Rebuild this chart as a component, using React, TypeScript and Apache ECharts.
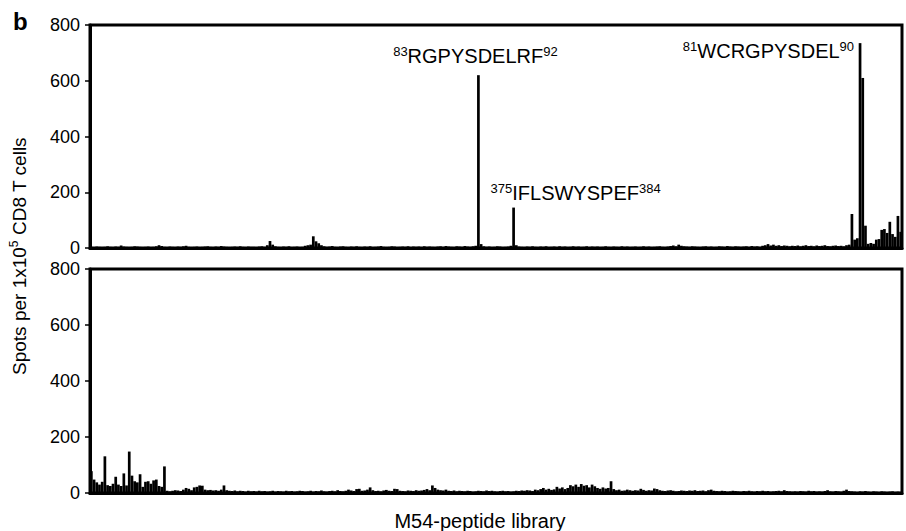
import { useEffect, useRef } from 'react';
import * as echarts from 'echarts';

const N = 300;
const categories: string[] = Array.from({ length: N }, (_, i) => String(i + 1));

const yTicks = [0, 200, 400, 600, 800];

// Upper panel (responder 1)
const topValues: number[] = [
  4, 3, 5, 4, 3, 4, 6, 4, 3, 5, 4, 9, 5, 4, 3, 4, 6, 5, 4, 3,
  4, 5, 3, 4, 6, 10, 7, 4, 3, 5, 4, 3, 5, 4, 6, 8, 4, 3, 4, 5,
  3, 4, 5, 6, 4, 3, 5, 4, 7, 5, 4, 3, 4, 5, 4, 6, 4, 3, 5, 4,
  4, 3, 5, 6, 4, 10, 25, 12, 6, 4, 3, 5, 4, 6, 3, 4, 5, 3, 4, 8,
  10, 12, 42, 24, 17, 10, 6, 4, 5, 7, 4, 3, 5, 6, 4, 3, 5, 4, 6, 4,
  3, 5, 4, 6, 3, 4, 5, 7, 4, 3, 4, 6, 5, 3, 4, 5, 4, 6, 3, 5,
  4, 5, 3, 6, 4, 5, 4, 3, 5, 6, 4, 7, 5, 4, 3, 6, 5, 4, 7, 5,
  4, 6, 8, 620, 14, 6, 4, 5, 3, 4, 6, 5, 3, 4, 5, 8, 145, 10, 5, 4,
  3, 5, 4, 6, 4, 3, 5, 4, 6, 3, 4, 5, 3, 6, 4, 5, 3, 4, 6, 4,
  5, 3, 4, 6, 3, 5, 4, 5, 3, 4, 6, 4, 3, 5, 4, 3, 6, 4, 5, 3,
  4, 5, 3, 4, 6, 4, 5, 3, 4, 5, 6, 4, 3, 5, 7, 9, 6, 12, 8, 6,
  5, 4, 6, 5, 4, 3, 5, 6, 4, 5, 3, 4, 6, 5, 4, 7, 5, 4, 6, 5,
  4, 5, 6, 4, 7, 5, 6, 4, 8, 10, 14, 9, 12, 8, 10, 7, 9, 8, 6, 8,
  7, 9, 6, 8, 10, 7, 8, 6, 9, 7, 8, 10, 7, 6, 8, 9, 7, 8, 6, 10,
  12, 122, 30, 35, 735, 610, 80, 15, 18, 15, 30, 32, 65, 68, 54, 94, 50, 40, 115, 58,
];

// Lower panel (responder 2)
const bottomValues: number[] = [
  78, 48, 38, 30, 40, 131, 28, 25, 33, 58, 30, 25, 70, 27, 148, 62, 42, 38, 67, 22,
  40, 42, 33, 45, 48, 25, 22, 95, 8, 6, 8, 10, 9, 7, 12, 18, 15, 10, 20, 22,
  27, 26, 12, 10, 11, 9, 10, 8, 12, 27, 10, 8, 7, 9, 6, 8, 7, 5, 8, 6,
  7, 5, 8, 6, 7, 5, 6, 8, 5, 7, 6, 5, 8, 6, 7, 5, 6, 8, 7, 5,
  6, 8, 5, 7, 6, 9, 6, 5, 7, 8, 6, 10, 7, 6, 8, 12, 9, 7, 14, 15,
  8, 9, 12, 20, 10, 7, 8, 6, 9, 11, 8, 7, 15, 14, 8, 7, 6, 9, 8, 7,
  10, 8, 9, 11, 14, 10, 27, 18, 12, 10, 9, 12, 8, 7, 9, 6, 8, 7, 6, 8,
  7, 5, 6, 8, 7, 6, 9, 7, 8, 6, 5, 7, 8, 6, 7, 5, 6, 8, 7, 9,
  8, 10, 9, 7, 12, 10, 14, 18, 12, 15, 11, 13, 22, 16, 20, 14, 18, 28, 24, 30,
  22, 32, 26, 28, 20, 30, 24, 18, 15, 20, 16, 18, 42, 14, 10, 12, 8, 9, 12, 10,
  8, 10, 9, 15, 11, 8, 10, 9, 16, 14, 10, 8, 7, 9, 10, 8, 6, 7, 9, 8,
  7, 9, 8, 10, 7, 8, 9, 6, 10, 12, 8, 7, 6, 8, 7, 5, 6, 8, 7, 6,
  5, 7, 6, 8, 6, 5, 7, 6, 8, 6, 7, 5, 6, 7, 8, 6, 10, 7, 6, 5,
  6, 5, 7, 6, 5, 8, 6, 7, 5, 6, 5, 7, 10, 6, 5, 7, 6, 5, 8, 12,
  7, 6, 5, 4, 6, 5, 7, 5, 4, 6, 5, 4, 6, 5, 4, 5, 6, 4, 5, 4,
];

// Annotated peptides: [category index, superscript start, sequence, superscript end]
const peptideLabels: [number, string, string, string][] = [
  [143, '83', 'RGPYSDELRF', '92'],
  [156, '375', 'IFLSWYSPEF', '384'],
  [284, '81', 'WCRGPYSDEL', '90'],
];

const FONT = '"Liberation Sans", Arial, Helvetica, sans-serif';

export default function App() {
  const ref = useRef<HTMLDivElement>(null);

  useEffect(() => {
    if (!ref.current) return;
    const chart = echarts.init(ref.current, undefined, { renderer: 'svg' });

    const rich = {
      s: { fontSize: 13, fontFamily: FONT, color: '#000', verticalAlign: 'top', lineHeight: 22 },
      m: { fontSize: 20, fontFamily: FONT, color: '#000', lineHeight: 22 },
    };

    const labelCfg = [
      { position: 'top', distance: 8, offset: [-3, 0] },
      { position: 'top', distance: 4, offset: [62, 0] },
      { position: 'left', distance: 6, offset: [0, 8] },
    ];

    const markData = peptideLabels.map(([idx, a, seq, b], k) => ({
      coord: [idx, topValues[idx]],
      symbol: 'circle',
      symbolSize: 0,
      label: {
        show: true,
        position: labelCfg[k].position,
        distance: labelCfg[k].distance,
        offset: labelCfg[k].offset,
        formatter: `{s|${a}}{m|${seq}}{s|${b}}`,
        rich,
      },
    }));

    const yAxisCommon = {
      type: 'value',
      min: yTicks[0],
      max: yTicks[yTicks.length - 1],
      interval: 200,
      splitLine: { show: false },
      axisLine: { show: true, lineStyle: { color: '#000', width: 3 } },
      axisTick: { show: true, length: 5, lineStyle: { color: '#000', width: 1.5 } },
      axisLabel: { color: '#000', fontSize: 18, fontFamily: FONT, margin: 10 },
    };

    const xAxisCommon = {
      type: 'category',
      data: categories,
      boundaryGap: true,
      axisLine: { show: true, lineStyle: { color: '#000', width: 3 } },
      axisTick: { show: false },
      axisLabel: { show: false },
      splitLine: { show: false },
    };

    chart.setOption({
      animation: false,
      backgroundColor: '#fff',
      grid: [
        { left: 90, top: 25, width: 812, height: 223, show: true, borderColor: '#000', borderWidth: 3, backgroundColor: 'transparent' },
        { left: 90, top: 269, width: 812, height: 224, show: true, borderColor: '#000', borderWidth: 3, backgroundColor: 'transparent' },
      ],
      xAxis: [
        { ...xAxisCommon, gridIndex: 0 },
        { ...xAxisCommon, gridIndex: 1 },
      ],
      yAxis: [
        { ...yAxisCommon, gridIndex: 0 },
        { ...yAxisCommon, gridIndex: 1 },
      ],
      series: [
        {
          type: 'bar',
          xAxisIndex: 0,
          yAxisIndex: 0,
          data: topValues,
          barCategoryGap: '0%',
          itemStyle: { color: '#000' },
          markPoint: { silent: true, data: markData },
        },
        {
          type: 'bar',
          xAxisIndex: 1,
          yAxisIndex: 1,
          data: bottomValues,
          barCategoryGap: '0%',
          itemStyle: { color: '#000' },
        },
      ],
      graphic: [
        {
          type: 'text',
          left: 13,
          top: 9,
          style: { text: 'b', font: `bold 24px ${FONT}`, fill: '#000' },
        },
        {
          type: 'text',
          x: 19,
          y: 256,
          rotation: Math.PI / 2,
          style: {
            text: '{a|Spots per 1x10}{b|5}{a| CD8 T cells}',
            align: 'center',
            verticalAlign: 'middle',
            fill: '#000',
            rich: {
              a: { fontSize: 19, fontFamily: FONT, fill: '#000', lineHeight: 22 },
              b: { fontSize: 12, fontFamily: FONT, fill: '#000', verticalAlign: 'top', lineHeight: 22 },
            },
          },
        },
        {
          type: 'text',
          x: 480,
          y: 521,
          style: {
            text: 'M54-peptide library',
            font: `20px ${FONT}`,
            fill: '#000',
            align: 'center',
            verticalAlign: 'middle',
          },
        },
      ],
    });

    return () => chart.dispose();
  }, []);

  return (
    <div
      ref={ref}
      style={{ position: 'fixed', left: 0, top: 0, width: 906, height: 531 }}
    />
  );
}
